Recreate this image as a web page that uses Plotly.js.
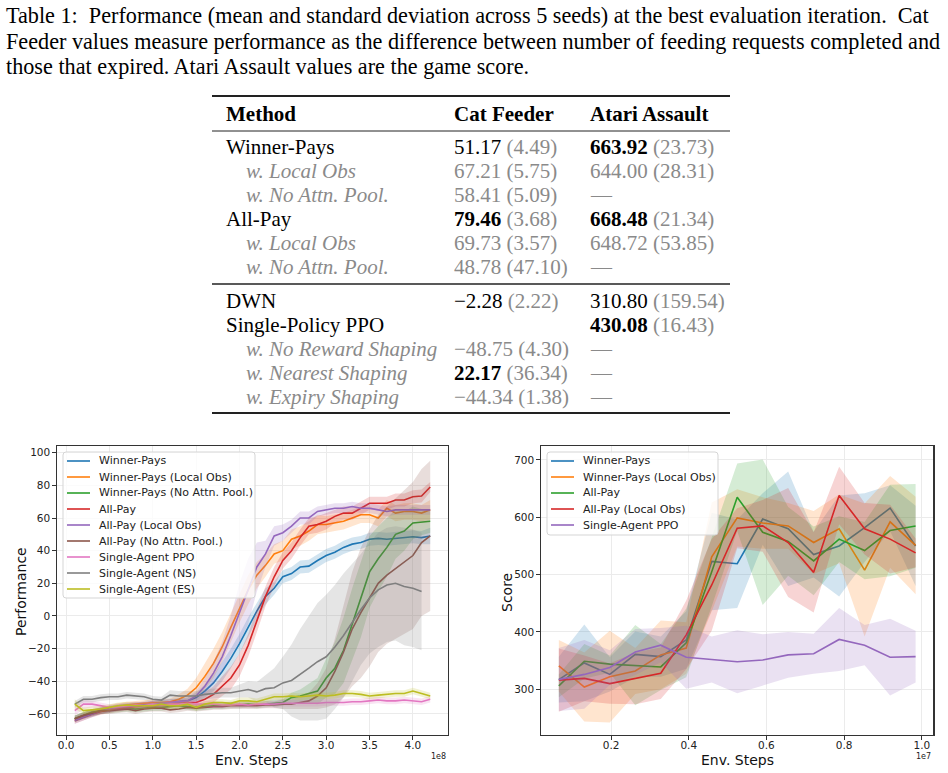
<!DOCTYPE html>
<html>
<head>
<meta charset="utf-8">
<script src="https://cdn.plot.ly/plotly-3.0.1.min.js"></script>
<style>
html,body{margin:0;padding:0;background:#fff;}
#chart{width:948px;height:773px;}
</style>
</head>
<body>
<div id="chart"></div>
<script>
// ---------------- Cat Feeder (left) data ----------------
const cfSteps = [0.1,0.2,0.3,0.4,0.5,0.6,0.7,0.8,0.9,1.0,1.1,1.2,1.3,1.4,1.5,1.6,1.7,1.8,1.9,2.0,2.1,2.2,2.3,2.4,2.5,2.6,2.7,2.8,2.9,3.0,3.1,3.2,3.3,3.4,3.5,3.6,3.7,3.8,3.9,4.0,4.1,4.2];
const cfNames = ["Winner-Pays","Winner-Pays (Local Obs)","Winner-Pays (No Attn. Pool.)","All-Pay","All-Pay (Local Obs)","All-Pay (No Attn. Pool.)","Single-Agent PPO","Single-Agent (NS)","Single-Agent (ES)"];
const cfWinnerPays = [-63,-61,-59.5,-58,-57,-56,-55.5,-55,-54.5,-54,-53.5,-53,-52.5,-52,-50,-46,-41,-34,-26,-17,-7,3,12,17,24,26,30,30.5,34,37,39,42,44,45,47,47.5,47,47.5,48,48.5,48,49];
const cfWinnerPaysLocal = [-63,-61,-59,-58,-56.5,-55.5,-54.5,-54,-53.5,-53,-53,-52.5,-51,-48.5,-44,-37,-29,-19,-7,5,16,25,31,38,40,47,49,52,56,56,57,58,60,62,62,60,66,63,64,64,63,65];
const cfWinnerPaysNoAttn = [-63,-61,-59,-58,-57.5,-57,-56.5,-57,-56.5,-56,-56,-55.5,-55,-55.5,-56,-55.5,-55,-55,-54.5,-54.5,-54,-54.5,-54,-53.5,-53,-50,-49,-47.5,-46,-38,-32,-21,-5,10,27,35,42,50,52,57,57.5,58];
const cfAllPay = [-64,-62,-60,-58.5,-57.5,-56.5,-56,-55.5,-55,-55,-54.5,-54,-53.5,-53,-53,-51,-48,-43,-38,-30,-18,-3,12,24,34,40,48,55,56,58,61,63,63,66,69,69,69,71,71,73,73.5,79];
const cfAllPayLocal = [-64,-62,-60,-58,-57,-56,-55.5,-55,-54.5,-54,-53.5,-53,-52.5,-52,-49,-43,-35,-25,-12,2,15,30,38,49,51,55,60,60,64,65,66,66,67,66,66,65,64,65,65,65,65,65];
const cfAllPayNoAttn = [-63,-61,-59.5,-58,-58,-57.5,-57,-58,-57,-56.5,-56.5,-57.5,-57,-56,-56.5,-56,-55.5,-55.5,-55,-55,-55,-55,-54.5,-54.5,-54,-54,-53,-52,-49,-44,-34,-22,-8,2,11,20,25,29,33,37,45,49];
const cfSinglePPO = [-58,-54,-54,-55,-56,-55.5,-55,-54.5,-55,-54,-54.5,-54,-54,-53.5,-54,-54,-54,-54.5,-54.5,-54,-54.5,-54,-54,-54,-53.5,-53.5,-53.5,-53.5,-53.5,-53,-53,-53,-52.5,-52.5,-52,-51.5,-52,-52,-51.5,-52,-52.5,-51];
const cfSingleNS = [-54,-51,-51,-50,-49.5,-49.5,-48.5,-49,-49.5,-51,-51.5,-48.5,-49,-49,-49,-48,-47.5,-47,-47,-46,-45,-46.5,-44.5,-44,-41,-39.5,-36,-32,-28,-25,-19,-12,-4,4,11,16,19,20,18,17,15,null];
const cfSingleES = [-54,-58,-57.5,-57,-56,-55,-54.5,-55,-55,-55,-54,-55,-55,-54,-56,-54,-53,-53,-53.5,-52,-52,-52.5,-51,-49.5,-49.5,-49,-49.5,-49,-48.5,-49,-48.5,-47.5,-47.5,-48,-49,-48.5,-48,-47.5,-47.5,-46,-47.5,-49];
// standard deviations across seeds (shaded bands)
const cfStdWinnerPays = [2,2,2,2,2,2,2,2,2,2,2,2,2,2,3,4,5,6,6,6,6,5,5,4,4,4,4,4,4,4,4,4,4,4,4,4,4,4,4,4,4,5];
const cfStdWinnerPaysLocal = [2,2,2,2,2,2,2,2,2,2,2,2,3,4,6,8,9,9,9,9,9,8,7,6,6,6,6,6,6,5,5,5,5,5,5,5,5,5,5,5,5,6];
const cfStdWinnerPaysNoAttn = [2,2,2,2,2,2,2,2,2,2,2,2,2,2,2,2,2,2,2,2,2,2,2,2,2,3,4,6,8,12,16,20,22,23,22,20,18,15,12,10,8,7];
const cfStdAllPay = [2,2,2,2,2,2,2,2,2,2,2,2,2,2,3,4,5,6,7,7,7,7,6,6,5,5,5,5,5,5,4,4,4,4,4,4,4,4,4,4,4,3];
const cfStdAllPayLocal = [2,2,2,2,2,2,2,2,2,2,2,2,2,2,3,5,7,9,12,18,20,15,8,6,5,4,4,4,3,3,3,3,3,3,3,3,3,3,3,3,3,3];
const cfStdAllPayNoAttn = [2,2,2,2,2,2,2,2,2,2,2,2,2,2,2,2,2,2,2,2,2,2,2,2,3,3,4,5,8,12,20,28,35,40,42,42,42,43,44,45,45,46];
const cfStdSinglePPO = [3,3,2,2,2,2,2,2,2,2,2,2,2,2,2,2,2,2,2,2,2,2,2,2,2,2,2,2,2,2,2,2,2,2,2,2,2,2,2,2,2,2];
const cfStdSingleNS = [2,2,2,2,2,2,2,2,2,2,2,3,3,3,3,3,3,3,3,4,5,6,8,12,16,22,28,32,36,38,38,38,36,34,34,35,35,35,36,36,36,null];
const cfStdSingleES = [3,2,2,2,2,2,2,2,2,2,2,2,2,2,2,2,2,2,2,2,2,2,2,2,2,2,2,2,2,2,2,2,2,2,2,2,2,2,2,2,2,2];

// ---------------- Atari Assault (right) data ----------------
const aaSteps = [0.0656,0.1312,0.1968,0.2624,0.328,0.3936,0.4592,0.5248,0.5904,0.656,0.7216,0.7872,0.8528,0.9184,0.984];
const aaNames = ["Winner-Pays","Winner-Pays (Local Obs)","All-Pay","All-Pay (Local Obs)","Single-Agent PPO"];
const aaWinnerPays = [317,346,326,361,357,386,523,519,597,580,535,550,582,616,550];
const aaWinnerPaysLocal = [341,304,322,332,360,372,531,599,590,585,556,580,508,592,551];
const aaAllPay = [306,349,344,342,339,381,505,635,574,558,524,562,542,577,585];
const aaAllPayLocal = [316,319,310,319,328,395,482,581,585,556,504,638,580,562,538];
const aaSinglePPO = [317,326,338,365,377,356,352,348,351,360,362,387,377,356,357];
const aaStdWinnerPays = [40,67,30,40,35,50,85,77,45,100,40,88,60,40,70];
const aaStdWinnerPaysLocal = [45,60,80,40,60,45,95,50,45,40,55,60,116,80,85];
const aaStdAllPay = [20,30,15,70,40,60,60,59,127,60,60,40,50,80,73];
const aaStdAllPayLocal = [55,40,35,45,45,60,80,35,45,95,70,50,45,60,25];
const aaStdSinglePPO = [55,60,30,40,30,55,40,55,45,40,35,55,35,67,45];

const tab10 = ["#1f77b4","#ff7f0e","#2ca02c","#d62728","#9467bd","#8c564b","#e377c2","#7f7f7f","#bcbd22"];

function rgba(hex,a){
  const r=parseInt(hex.slice(1,3),16),g=parseInt(hex.slice(3,5),16),b=parseInt(hex.slice(5,7),16);
  return `rgba(${r},${g},${b},${a})`;
}

const traces = [];
function addSeries(xs, ys, sd, name, color, xa, ya){
  const px=[], up=[], lo=[];
  for(let i=0;i<xs.length;i++){
    if(ys[i]===null || sd[i]===null) continue;
    px.push(xs[i]); up.push(ys[i]+sd[i]); lo.push(ys[i]-sd[i]);
  }
  traces.push({
    x: px.concat(px.slice().reverse()),
    y: up.concat(lo.slice().reverse()),
    xaxis: xa, yaxis: ya, type:'scatter', mode:'lines',
    fill:'toself', fillcolor: rgba(color,0.2),
    line:{width:0, color:'rgba(0,0,0,0)'},
    hoverinfo:'skip', showlegend:false
  });
  traces.push({
    x: xs, y: ys, name: name, xaxis: xa, yaxis: ya, showlegend:false,
    type:'scatter', mode:'lines', line:{color:color, width:1.6}, connectgaps:false
  });
}

const cfSeries = [cfWinnerPays,cfWinnerPaysLocal,cfWinnerPaysNoAttn,cfAllPay,cfAllPayLocal,cfAllPayNoAttn,cfSinglePPO,cfSingleNS,cfSingleES];
const cfStds = [cfStdWinnerPays,cfStdWinnerPaysLocal,cfStdWinnerPaysNoAttn,cfStdAllPay,cfStdAllPayLocal,cfStdAllPayNoAttn,cfStdSinglePPO,cfStdSingleNS,cfStdSingleES];
cfSeries.forEach((s,i)=>addSeries(cfSteps,s,cfStds[i],cfNames[i],tab10[i],'x','y'));

const aaSeries = [aaWinnerPays,aaWinnerPaysLocal,aaAllPay,aaAllPayLocal,aaSinglePPO];
const aaStds = [aaStdWinnerPays,aaStdWinnerPaysLocal,aaStdAllPay,aaStdAllPayLocal,aaStdSinglePPO];
aaSeries.forEach((s,i)=>addSeries(aaSteps,s,aaStds[i],aaNames[i],tab10[i],'x2','y2'));

// ---------------- layout helpers ----------------
const W=948, H=773;
const px = v => v/W;
const py = v => 1 - v/H;

const axisCommon = {
  showline:true, mirror:true, linecolor:'#333', linewidth:1.2,
  ticks:'outside', ticklen:3.5, tickwidth:1, tickcolor:'#333',
  showgrid:true, gridcolor:'#ebebeb', gridwidth:1, zeroline:false,
  tickfont:{family:'DejaVu Sans', size:10.5, color:'#222'}
};

const annotations = [];
const shapes = [];
function ann(text,x,y,opt){
  annotations.push(Object.assign({text:text, x:px(x), y:py(y), xref:'paper', yref:'paper',
    showarrow:false, xanchor:'left', yanchor:'middle'}, opt||{}));
}

// caption
const capFont = {family:'Liberation Serif', size:22.2, color:'#000'};
ann("Table 1:  Performance (mean and standard deviation across 5 seeds) at the best evaluation iteration.  Cat",4,15,{font:capFont});
ann("Feeder values measure performance as the difference between number of feeding requests completed and",4,41,{font:capFont});
ann("those that expired. Atari Assault values are the game score.",4,66,{font:capFont});

// table
const G = '#8a8a8a';
const g = t => `<span style="color:${G}">${t}</span>`;
const tf = {family:'Liberation Serif', size:21, color:'#000'};
const col1=224, col1i=244, col2=452, col3=588;
const rows = [
  [114, "<b>Method</b>", col1, "<b>Cat Feeder</b>", "<b>Atari Assault</b>"],
  [147, "Winner-Pays", col1, "51.17 "+g("(4.49)"), "<b>663.92</b> "+g("(23.73)")],
  [171, g("<i>w. Local Obs</i>"), col1i, g("67.21 (5.75)"), g("644.00 (28.31)")],
  [195, g("<i>w. No Attn. Pool.</i>"), col1i, g("58.41 (5.09)"), g("—")],
  [219, "All-Pay", col1, "<b>79.46</b> "+g("(3.68)"), "<b>668.48</b> "+g("(21.34)")],
  [243, g("<i>w. Local Obs</i>"), col1i, g("69.73 (3.57)"), g("648.72 (53.85)")],
  [267, g("<i>w. No Attn. Pool.</i>"), col1i, g("48.78 (47.10)"), g("—")],
  [301, "DWN", col1, "−2.28 "+g("(2.22)"), "310.80 "+g("(159.54)")],
  [325, "Single-Policy PPO", col1, "", "<b>430.08</b> "+g("(16.43)")],
  [349, g("<i>w. No Reward Shaping</i>"), col1i, g("−48.75 (4.30)"), g("—")],
  [373, g("<i>w. Nearest Shaping</i>"), col1i, "<b>22.17</b> "+g("(36.34)"), g("—")],
  [397, g("<i>w. Expiry Shaping</i>"), col1i, g("−44.34 (1.38)"), g("—")]
];
rows.forEach(r=>{
  ann(r[1], r[2], r[0], {font:tf});
  if(r[3]) ann(r[3], col2, r[0], {font:tf});
  if(r[4]) ann(r[4], col3, r[0], {font:tf});
});
function rule(y,w){
  shapes.push({type:'line', xref:'paper', yref:'paper', x0:px(212), x1:px(730), y0:py(y), y1:py(y),
    line:{color:'#222', width:w}});
}
rule(96,1.8); rule(131,1); rule(284,1.3); rule(413,1.8);

// axis titles and offsets
const atf = {family:'DejaVu Sans', size:14, color:'#111'};
ann("Performance", 21, 592, {font:atf, textangle:-90, xanchor:'center', yanchor:'middle'});
ann("Env. Steps", 252, 760, {font:atf, xanchor:'center'});
ann("Score", 507, 592, {font:atf, textangle:-90, xanchor:'center', yanchor:'middle'});
ann("Env. Steps", 737, 760, {font:atf, xanchor:'center'});
ann("1e8", 448, 756, {font:{family:'DejaVu Sans', size:8, color:'#222'}, xanchor:'right'});
ann("1e7", 933, 756, {font:{family:'DejaVu Sans', size:8, color:'#222'}, xanchor:'right'});

// legends (matplotlib style: compact rows, rounded frame)
function roundRect(x0,y0,x1,y1,r){
  const X=px, Y=py, rx=r/W, ry=r/H;
  const a=X(x0), b=X(x1), t=Y(y0), u=Y(y1);
  return `M ${a+rx},${t} L ${b-rx},${t} Q ${b},${t} ${b},${t-ry} L ${b},${u+ry} Q ${b},${u} ${b-rx},${u} L ${a+rx},${u} Q ${a},${u} ${a},${u+ry} L ${a},${t-ry} Q ${a},${t} ${a+rx},${t} Z`;
}
function drawLegend(names, colors, box, lineX0, lineX1, textX, firstY, step){
  shapes.push({type:'path', xref:'paper', yref:'paper', path:roundRect(box[0],box[1],box[2],box[3],3),
    fillcolor:'rgba(255,255,255,0.8)', line:{color:'#d5d5d5', width:1}, layer:'above'});
  names.forEach((n,i)=>{
    const y = firstY + i*step;
    shapes.push({type:'line', xref:'paper', yref:'paper', x0:px(lineX0), x1:px(lineX1), y0:py(y), y1:py(y),
      line:{color:colors[i], width:1.6}, layer:'above'});
    ann(n, textX, y, {font:{family:'DejaVu Sans', size:11, color:'#222'}});
  });
}
drawLegend(cfNames, tab10, [63,452,255,598], 67, 90, 97, 461, 16);
drawLegend(aaNames, tab10, [547,452,718,535], 551, 574, 581, 461, 16);

const layout = {
  width:W, height:H, margin:{l:0,r:0,t:0,b:0},
  paper_bgcolor:'#fff', plot_bgcolor:'#fff',
  font:{family:'DejaVu Sans', size:10, color:'#222'},
  hovermode:false, showlegend:false,
  xaxis:Object.assign({domain:[px(57),px(448)], anchor:'y', range:[-0.105,4.405], tick0:0, dtick:0.5, tickformat:'.1f', ticklabelstandoff:-3}, axisCommon),
  yaxis:Object.assign({domain:[py(735),py(446)], anchor:'x', range:[-72.9,104.1], tick0:0, dtick:20, ticklabelstandoff:0}, axisCommon),
  xaxis2:Object.assign({domain:[px(541),px(933.3)], anchor:'y2', range:[0.0197,1.0296], tick0:0, dtick:0.2, tickformat:'.1f', ticklabelstandoff:-3}, axisCommon),
  yaxis2:Object.assign({domain:[py(735),py(446)], anchor:'x2', range:[220.3,724.4], tick0:0, dtick:100, ticklabelstandoff:0}, axisCommon),
  annotations:annotations, shapes:shapes
};

Plotly.newPlot('chart', traces, layout, {staticPlot:true, displayModeBar:false});
</script>
</body>
</html>
